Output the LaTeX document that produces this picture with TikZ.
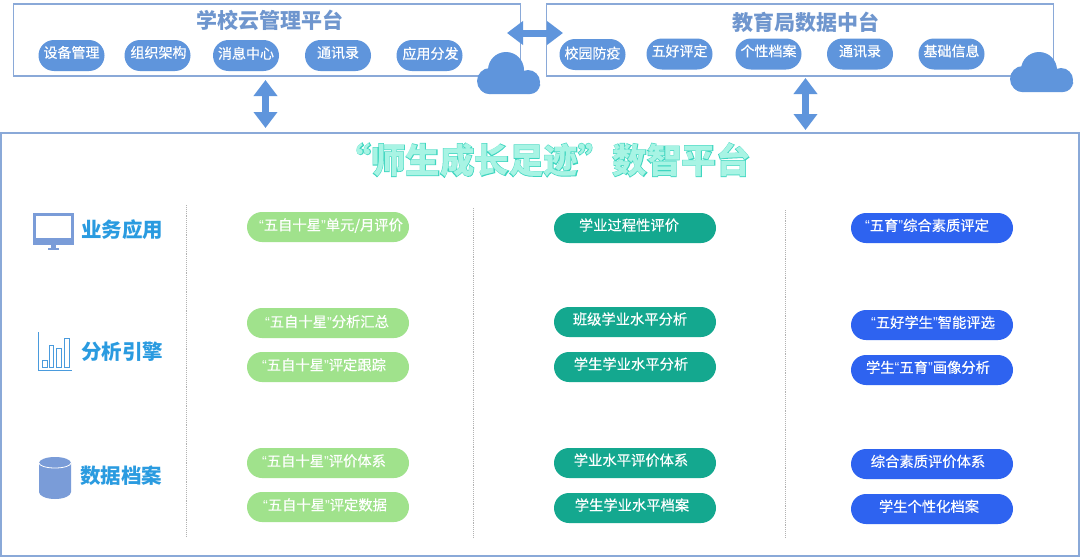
\documentclass[tikz,border=0pt]{standalone}
\usepackage{fontspec}
\setmainfont{Noto Sans CJK SC}
\newfontfamily\fatfont[FakeBold=5]{Noto Sans CJK SC Bold}
\newfontfamily\pillfont[FakeBold=0.35]{Noto Sans CJK SC}
\newfontfamily\quotefont{Liberation Sans}
\usepackage{tikz}
\usetikzlibrary{arrows.meta}
\definecolor{framecol}{HTML}{8AA9D8}
\definecolor{capcol}{HTML}{6F96CE}
\definecolor{pillcol}{HTML}{5F95DC}
\definecolor{iconcol}{HTML}{7A9CD8}
\definecolor{rowcol}{HTML}{2A9BE0}
\definecolor{greencol}{HTML}{A0E28C}
\definecolor{tealcol}{HTML}{14A88F}
\definecolor{bluecol}{HTML}{2E63F0}
\definecolor{titleout}{HTML}{3ED6C0}
\definecolor{titlein}{HTML}{A8F4E4}
\newcommand{\ptxt}[3]{\raisebox{#2pt}[0pt][0pt]{\makebox[0pt]{\kern#1pt #3\kern-#1pt}}}
\newcommand{\lqm}{{\quotefont “}}
\newcommand{\rqm}{{\quotefont ”}}
\tikzset{
    framebox/.style={draw=framecol,line width=1.8pt,inner sep=0pt},
    capnode/.style={text=capcol,font=\fontsize{21}{21}\selectfont\bfseries},
    toppill/.style={fill=pillcol,text=white,rounded corners=15.5pt,minimum width=66pt,minimum height=31pt,inner sep=0pt,font=\fontsize{14}{14}\pillfont},
    rowpill/.style={rounded corners=15pt,minimum width=162pt,minimum height=30pt,inner sep=0pt,text=white,font=\fontsize{14.3}{14}\pillfont},
    greenpill/.style={rowpill,fill=greencol},
    tealpill/.style={rowpill,fill=tealcol},
    bluepill/.style={rowpill,fill=bluecol},
    rowlabel/.style={text=rowcol,font=\fontsize{20.5}{21}\selectfont\bfseries},
    bigarrow/.style={draw=pillcol,line width=7pt,{Triangle[length=16pt,width=23pt]}-{Triangle[length=16pt,width=23pt]}},
    sepline/.style={draw=black!30,line width=0.9pt,densely dotted},
    titlefont/.style={font=\fontsize{34.5}{35}#1},
}
\begin{document}
\begin{tikzpicture}[x=1pt,y=-1pt]
    \useasboundingbox (0,0) rectangle (1080,557);
    \fill[white] (0,0) rectangle (1080,557);

    \node[framebox,minimum width=507pt,minimum height=72pt] (school) at (267,40){};
    \node[framebox,minimum width=507pt,minimum height=72pt] (bureau) at (800,40){};
    \node[framebox,minimum width=1078pt,minimum height=423pt] (platform) at (540,344.5){};

    \node[capnode] (schoolcap) at (270,20){学校云管理平台};
    \node[capnode] (bureaucap) at (805.5,22){教育局数据中台};

    \node[toppill] (s1) at (71.5,55.5){\ptxt{0}{-2.3}{设备管理}};
    \node[toppill] (s2) at (157.5,55.5){\ptxt{1}{-2.3}{组织架构}};
    \node[toppill] (s3) at (246,55.5){\ptxt{0}{-3.3}{消息中心}};
    \node[toppill] (s4) at (338,55.5){\ptxt{0}{-2.3}{通讯录}};
    \node[toppill] (s5) at (429.5,55.5){\ptxt{1}{-3.3}{应用分发}};

    \node[toppill] (b1) at (592.5,54.5){\ptxt{0}{-4}{校园防疫}};
    \node[toppill] (b2) at (679.5,54){\ptxt{0}{-2.3}{五好评定}};
    \node[toppill] (b3) at (768.5,54){\ptxt{0}{-2.3}{个性档案}};
    \node[toppill] (b4) at (860,54){\ptxt{0}{-2.3}{通讯录}};
    \node[toppill] (b5) at (951.5,54){\ptxt{0}{-2.3}{基础信息}};

    % clouds
    \fill[pillcol] (490,81) circle[radius=13pt] (506,70) circle[radius=18pt] (528,82) circle[radius=12pt];
    \fill[pillcol,rounded corners=10pt] (479,76) rectangle (540,94);
    \fill[pillcol] (1023,79) circle[radius=13pt] (1039,70) circle[radius=18pt] (1061,80) circle[radius=12pt];
    \fill[pillcol,rounded corners=10pt] (1012,74) rectangle (1073,92);

    \coordinate (schoolleft) at (507,33);
    \coordinate (bureauright) at (563,33);
    \coordinate (schooldown) at (265.5,80);
    \coordinate (platformup) at (265.5,128);
    \coordinate (bureaudown) at (805.5,78);
    \coordinate (platformup2) at (805.5,130);
    \draw[bigarrow] (schoolleft) -- (bureauright);
    \draw[bigarrow] (schooldown) -- (platformup);
    \draw[bigarrow] (bureaudown) -- (platformup2);

    \node[text=titleout,titlefont=\fatfont] (titleback) at (543.5,160){“师生成长足迹”数智平台};
    \node[text=titlein,titlefont=\bfseries] (titlefront) at (543.5,160){“师生成长足迹”数智平台};

    \draw[sepline] (186,205) -- (186,537);
    \draw[sepline] (473,208) -- (473,537);
    \draw[sepline] (785,210) -- (785,537);

    % monitor
    \fill[iconcol] (33,213) rectangle (74,245);
    \fill[white] (36,216) rectangle (71,238);
    \fill[iconcol] (51,245) rectangle (56,248);
    \fill[iconcol] (48,248) rectangle (59,250);
    \node[rowlabel] (rowapp) at (122,230){业务应用};

    % bars
    \draw[rowcol!60!iconcol,line width=1pt] (38,332) -- (38,370) -- (72,370);
    \draw[rowcol!60!iconcol,line width=1pt] (42,367) rectangle (47,360);
    \draw[rowcol!60!iconcol,line width=1pt] (49,367) rectangle (53,345);
    \draw[rowcol!60!iconcol,line width=1pt] (56,367) rectangle (61,348);
    \draw[rowcol!60!iconcol,line width=1pt] (64,367) rectangle (69,338);
    \node[rowlabel] (rowengine) at (122,352){分析引擎};

    % cylinder
    \fill[iconcol] (39,463) arc[start angle=180,end angle=0,x radius=16pt,y radius=6pt] -- (71,492) arc[start angle=0,end angle=-180,x radius=16pt,y radius=7pt] -- cycle;
    \draw[white,line width=0.8pt] (39,463) arc[start angle=180,end angle=360,x radius=16pt,y radius=5pt];
    \node[rowlabel] (rowdata) at (121,476){数据档案};

    \node[greenpill] (g1) at (328,227){\ptxt{3}{-3.3}{\lqm 五自十星\rqm 单元/月评价}};
    \node[greenpill] (g2) at (328,323){\ptxt{-1}{-4}{\lqm 五自十星\rqm 分析汇总}};
    \node[greenpill] (g3) at (328,367){\ptxt{-4}{-3.3}{\lqm 五自十星\rqm 评定跟踪}};
    \node[greenpill] (g4) at (328,463){\ptxt{-4}{-3.3}{\lqm 五自十星\rqm 评价体系}};
    \node[greenpill] (g5) at (328,507){\ptxt{-3}{-3.3}{\lqm 五自十星\rqm 评定数据}};

    \node[tealpill] (t1) at (635,228){\ptxt{-6}{-2.5}{学业过程性评价}};
    \node[tealpill] (t2) at (635,322){\ptxt{-5}{-2.5}{班级学业水平分析}};
    \node[tealpill] (t3) at (635,367){\ptxt{-4}{-2.5}{学生学业水平分析}};
    \node[tealpill] (t4) at (635,463){\ptxt{-4}{-2.5}{学业水平评价体系}};
    \node[tealpill] (t5) at (635,508){\ptxt{-3}{-2.5}{学生学业水平档案}};

    \node[bluepill] (u1) at (932,228){\ptxt{-5}{-2.8}{\lqm 五育\rqm 综合素质评定}};
    \node[bluepill] (u2) at (932,325){\ptxt{1}{-2.8}{\lqm 五好学生\rqm 智能评选}};
    \node[bluepill] (u3) at (932,370){\ptxt{-4}{-2.8}{学生\lqm 五育\rqm 画像分析}};
    \node[bluepill] (u4) at (932,464){\ptxt{-4}{-2.8}{综合素质评价体系}};
    \node[bluepill] (u5) at (932,509){\ptxt{-3}{-2.8}{学生个性化档案}};
\end{tikzpicture}
\end{document}
